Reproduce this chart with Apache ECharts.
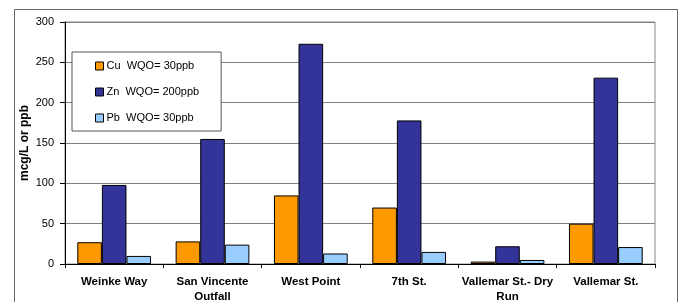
<!DOCTYPE html>
<html><head><meta charset="utf-8">
<script src="https://cdn.jsdelivr.net/npm/echarts@6/dist/echarts.min.js"></script>
<style>html,body{margin:0;padding:0;background:#fff}#c{width:683px;height:302px}</style>
</head><body><div id="c"></div>
<script>
var categories = ['Weinke Way', 'San Vincente\nOutfall', 'West Point', '7th St.', 'Vallemar St.- Dry\nRun', 'Vallemar St.'];
var seriesNames = ['Cu  WQO= 30ppb', 'Zn  WQO= 200ppb', 'Pb  WQO= 30ppb'];
var cuValues = [27, 28, 85, 70, 3, 50];
var znValues = [98, 155, 273, 178, 22, 231];
var pbValues = [10, 24, 13, 15, 5, 21];
var yTicks = [0, 50, 100, 150, 200, 250, 300];
var colors = ['#FF9900', '#333399', '#99CCFF'];

var chart = echarts.init(document.getElementById('c'), null, {renderer: 'canvas'});
var font = 'Liberation Sans, Arial, sans-serif';
function mk(i, data) {
  return {
    name: seriesNames[i], type: 'bar', data: data,
    barGap: '0%', barCategoryGap: '25%',
    itemStyle: {color: colors[i], borderColor: '#000', borderWidth: 1},
    animation: false
  };
}
chart.setOption({
  animation: false,
  textStyle: {fontFamily: font},
  graphic: [{type: 'rect', shape: {x: 14.5, y: 9.5, width: 663, height: 300}, style: {fill: 'none', stroke: '#666', lineWidth: 1}, z: -10}],
  grid: {left: 65, top: 22, right: 28, bottom: 38, show: true, borderColor: '#888', borderWidth: 1, backgroundColor: '#fff', containLabel: false, outerBoundsMode: 'none'},
  legend: {
    orient: 'vertical', left: 72, top: 52,
    padding: [7, 22, 6, 23],
    backgroundColor: '#fff', borderColor: '#555', borderWidth: 1,
    itemWidth: 8, itemHeight: 8, itemGap: 12,
    icon: 'rect',
    itemStyle: {borderColor: '#000', borderWidth: 1},
    textStyle: {fontFamily: font, fontSize: 11, color: '#000', lineHeight: 14, padding: [0, 0, 0, -2]},
    data: seriesNames
  },
  xAxis: {
    type: 'category', data: categories,
    axisLine: {lineStyle: {color: '#000', width: 1}},
    axisTick: {show: true, length: 4, lineStyle: {color: '#000'}},
    axisLabel: {fontFamily: font, fontSize: 11.5, fontWeight: 'bold', color: '#000', margin: 10, lineHeight: 15, interval: 0}
  },
  yAxis: {
    type: 'value', min: 0, max: 300, interval: 50,
    name: 'mcg/L or ppb', nameLocation: 'middle', nameGap: 34, nameMoveOverlap: false,
    nameTextStyle: {fontFamily: font, fontSize: 12, fontWeight: 'bold', color: '#000'},
    axisLine: {show: true, lineStyle: {color: '#000', width: 1}},
    axisTick: {show: true, length: 5, lineStyle: {color: '#000'}},
    axisLabel: {fontFamily: font, fontSize: 11, color: '#000', margin: 11,
      formatter: function (v) { return yTicks.indexOf(v) >= 0 ? String(v) : ''; }},
    splitLine: {show: true, lineStyle: {color: '#808080', width: 1}}
  },
  series: [mk(0, cuValues), mk(1, znValues), mk(2, pbValues)]
});
</script></body></html>
